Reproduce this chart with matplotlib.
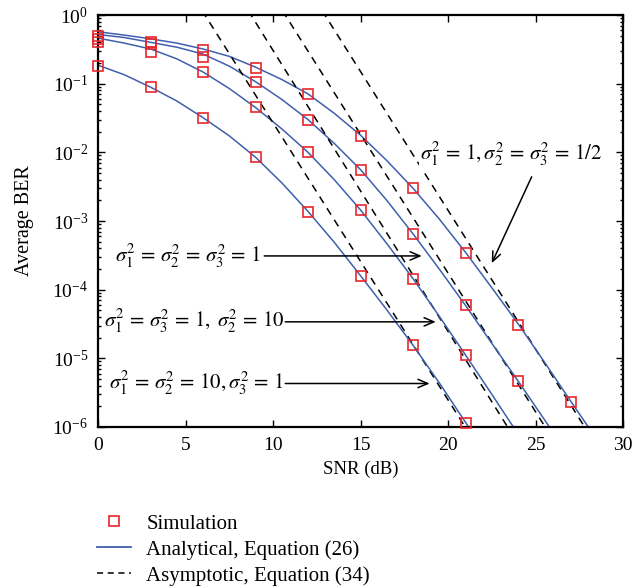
import numpy as np
import matplotlib
matplotlib.use("Agg")
import matplotlib.pyplot as plt
from matplotlib.lines import Line2D

plt.rcParams["font.family"] = ["Liberation Serif", "DejaVu Serif"]
plt.rcParams["mathtext.fontset"] = "stix"

# ---- data -------------------------------------------------------------
snr_sim = [0, 3, 6, 9, 12, 15, 18, 21, 24, 27]

# simulated BER (red squares)
sim_half = [0.49, 0.41, 0.31, 0.168, 0.070, 0.0175, 3.0e-3, 3.4e-4, 3.1e-5, 2.3e-6]
sim_equal = [0.45, 0.38, 0.245, 0.107, 0.0296, 5.5e-3, 6.4e-4, 5.9e-5, 4.7e-6]
sim_s2_10 = [0.41, 0.287, 0.146, 0.045, 0.0100, 1.43e-3, 1.44e-4, 1.12e-5]
sim_s12_10 = [0.178, 0.089, 0.032, 8.5e-3, 1.37e-3, 1.6e-4, 1.56e-5, 1.13e-6]

# analytical BER, Equation (26)
snr_ana = [0, 1.5, 3, 4.5, 6, 7.5, 9, 10.5, 12, 13.5, 15, 16.5, 18, 19.5,
           21, 22.5, 24, 25.5, 27, 28.5]
ana_half = [0.57, 0.51, 0.45, 0.39, 0.32, 0.25, 0.174, 0.115, 0.071, 0.037,
            0.0178, 7.6e-3, 3.0e-3, 1.07e-3, 3.5e-4, 1.07e-4, 3.2e-5, 8.9e-6,
            2.4e-6, 6.6e-7]
ana_equal = [0.52, 0.47, 0.40, 0.34, 0.27, 0.18, 0.107, 0.059, 0.030, 0.0135,
             5.6e-3, 2.0e-3, 6.5e-4, 2.0e-4, 5.9e-5, 1.66e-5, 4.7e-6, 1.29e-6,
             3.5e-7]
ana_s2_10 = [0.46, 0.39, 0.32, 0.23, 0.148, 0.085, 0.045, 0.022, 0.0100,
             4.0e-3, 1.45e-3, 4.7e-4, 1.45e-4, 4.1e-5, 1.12e-5, 3.0e-6, 7.9e-7]
ana_s12_10 = [0.186, 0.135, 0.089, 0.056, 0.032, 0.0174, 8.5e-3, 3.6e-3,
              1.38e-3, 4.9e-4, 1.6e-4, 5.1e-5, 1.55e-5, 4.4e-6, 1.17e-6, 3.2e-7]

# asymptotic BER, Equation (34): straight lines on the log scale
snr_asy = [5, 30]
asy_half = [1.66e3, 1.3e-7]
asy_equal = [2.0e2, 1.6e-8]
asy_s2_10 = [34.0, 2.0e-9]
asy_s12_10 = [2.8, 2.3e-10]

ana_sets = [(ana_half, sim_half, asy_half),
            (ana_equal, sim_equal, asy_equal),
            (ana_s2_10, sim_s2_10, asy_s2_10),
            (ana_s12_10, sim_s12_10, asy_s12_10)]

BLUE = "#3f5fae"
RED = "#e8262b"

# ---- figure -------------------------------------------------------------
fig = plt.figure(figsize=(6.43, 5.88), dpi=100)
ax = fig.add_axes([98 / 643, 1 - 427 / 588, 525 / 643, 412 / 588])

for ana, sim, asy in ana_sets:
    ax.plot(snr_asy, asy, color="black", lw=1.1, dashes=(5, 4))
    ax.plot(snr_ana[:len(ana)], ana, color=BLUE, lw=1.1)
    ax.plot(snr_sim[:len(sim)], sim, ls="none", marker="s", ms=7.5,
            mfc="none", mec=RED, mew=1.2, clip_on=False, zorder=5)

ax.set_yscale("log")
ax.set_xlim(0, 30)
ax.set_ylim(1e-6, 1)
ax.set_xticks([0, 5, 10, 15, 20, 25, 30])
ax.set_yticks([1e-6, 1e-5, 1e-4, 1e-3, 1e-2, 1e-1, 1])
ax.tick_params(which="both", direction="in", top=True, right=True,
               labelsize=14, width=1.0)
ax.tick_params(which="major", length=5, pad=7)
ax.tick_params(which="minor", length=2.5)
for s in ax.spines.values():
    s.set_linewidth(1.6)

ax.set_xlabel("SNR (dB)", fontsize=13.5, labelpad=5)
ax.set_ylabel("Average BER", fontsize=14.5, labelpad=13)

# curve labels with arrows
lab_fs = 15
arrow_kw = dict(arrowstyle="->,head_length=0.7,head_width=0.3",
                lw=1.1, color="black", shrinkA=0, shrinkB=0)

ax.text(9.3, 3.1e-4, r"$\sigma_1^2\,=\,\sigma_2^2\,=\,\sigma_3^2\,=\,1$",
        ha="right", va="center", fontsize=lab_fs)
ax.annotate("", xy=(18.5, 3.1e-4), xytext=(9.5, 3.1e-4), arrowprops=arrow_kw)

ax.text(10.7, 3.4e-5, r"$\sigma_1^2\,=\,\sigma_3^2\,=\,1,\;\sigma_2^2\,=\,10$",
        ha="right", va="center", fontsize=lab_fs)
ax.annotate("", xy=(19.3, 3.4e-5), xytext=(10.7, 3.4e-5), arrowprops=arrow_kw)

ax.text(10.6, 4.3e-6, r"$\sigma_1^2\,=\,\sigma_2^2\,=\,10,\sigma_3^2\,=\,1$",
        ha="right", va="center", fontsize=lab_fs)
ax.annotate("", xy=(18.95, 4.3e-6), xytext=(10.7, 4.3e-6), arrowprops=arrow_kw)

ax.text(18.4, 9.2e-3, r"$\sigma_1^2\,=\,1,\sigma_2^2\,=\,\sigma_3^2\,=\,1/2$",
        ha="left", va="center", fontsize=lab_fs,
        bbox=dict(facecolor="white", edgecolor="none", pad=0.5))
ax.annotate("", xy=(22.5, 2.43e-4), xytext=(24.78, 4.4e-3), arrowprops=arrow_kw)

# legend below the axes
handles = [
    Line2D([], [], ls="none", marker="s", ms=7.5, mfc="none", mec=RED, mew=1.2),
    Line2D([], [], color=BLUE, lw=1.3),
    Line2D([], [], color="black", lw=1.1, dashes=(4, 3)),
]
labels = ["Simulation", "Analytical, Equation (26)", "Asymptotic, Equation (34)"]
fig.legend(handles, labels, loc="upper left",
           bbox_to_anchor=(97 / 643, 1 - 514 / 588), frameon=False,
           fontsize=15, handlelength=1.65, handletextpad=0.72,
           labelspacing=0.3, borderpad=0, borderaxespad=0)

fig.savefig("out.png", dpi=100)
